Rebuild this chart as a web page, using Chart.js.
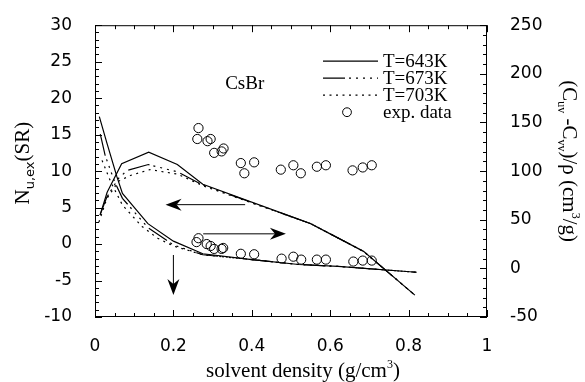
<!DOCTYPE html>
<html>
<head>
<meta charset="utf-8">
<script src="https://cdn.jsdelivr.net/npm/chart.js@4.4.0/dist/chart.umd.min.js"></script>
<style>
html,body{margin:0;padding:0;background:#fff;}
#wrap{width:585px;height:382px;}
</style>
</head>
<body>
<div id="wrap"><canvas id="myChart" width="585" height="382"></canvas></div>
<script>
// N_u,ex (left axis), three temperatures
var nuX643 = [0.013,0.031,0.068,0.137,0.21,0.275,0.55,0.685,0.816];
var nuY643 = [4.0,7.1,11.0,12.6,10.9,8.2,2.8,-1.0,-7.0];
var nuX673 = [0.013,0.03,0.06,0.082,0.136,0.21,0.275,0.55,0.685,0.816];
var nuY673 = [4.0,6.4,9.0,10.1,10.9,9.9,8.1,2.8,-1.0,-7.0];
var nuX703 = [0.01,0.03,0.06,0.09,0.14,0.21,0.275,0.55,0.685,0.816];
var nuY703 = [3.0,6.2,8.6,9.4,10.2,9.6,8.0,2.8,-1.0,-7.0];

// (C_uv - C_vv)/rho (right axis), three temperatures
var cX643 = [0.011,0.031,0.056,0.07,0.135,0.2,0.275,0.4,0.52,0.62,0.82];
var cY643 = [156,128,94,77,46,28,15,9,4,2,-4];
var cX673 = [0.0135,0.026,0.05,0.07,0.135,0.2,0.275,0.4,0.52,0.62,0.82];
var cY673 = [138,116,89,72,42,24,14,9,4,2,-4];
var cX703 = [0.018,0.04,0.07,0.12,0.16,0.2,0.275,0.4,0.52,0.62,0.82];
var cY703 = [111,89,65,43,31,23,14,9,4,2,-4];

// experimental points
var expNuX = [0.264,0.261,0.287,0.295,0.304,0.323,0.328,0.372,0.381,0.406,0.474,0.506,0.525,0.566,0.589,0.657,0.683,0.706];
var expNuY = [15.9,14.4,14.1,14.4,12.5,12.7,13.1,11.1,9.7,11.2,10.2,10.8,9.7,10.6,10.8,10.1,10.5,10.8];
var expCX = [0.264,0.259,0.285,0.295,0.304,0.323,0.327,0.372,0.406,0.476,0.506,0.526,0.566,0.589,0.659,0.683,0.706];
var expCY = [31,27,25,23,20,20,21,15,14.5,10,12,9,9,9,7,8,8];

// arrows, in left axis units
var arrowFrom = [[0.383,5.4],[0.276,1.4],[0.2,-1.5]];
var arrowTo = [[0.18,5.4],[0.487,1.4],[0.2,-7.0]];

var legendLabels = ['T=643K','T=673K','T=703K','exp. data'];
var systemLabel = 'CsBr';
var systemPos = [0.332,21.3];

var dash673 = [22,4,2,5,2,5,2,5,2,5];
var dot703 = [2,4.5];

function pts(xs,ys){
    return xs.map(function(x,i){ return {x:x,y:ys[i]}; });
}

function lineSet(label,xs,ys,axis,dash){
    return {
        label: label,
        data: pts(xs,ys),
        yAxisID: axis,
        showLine: true,
        borderColor: '#000',
        borderWidth: 1.2,
        borderDash: dash,
        pointRadius: 0,
        fill: false,
        tension: 0
    };
}

function circleSet(xs,ys,axis){
    return {
        label: 'exp. data',
        data: pts(xs,ys),
        yAxisID: axis,
        showLine: false,
        pointStyle: 'circle',
        pointRadius: 4.6,
        borderColor: '#000',
        borderWidth: 1,
        backgroundColor: 'rgba(0,0,0,0)'
    };
}

var serif = '"Liberation Serif", "DejaVu Serif", serif';
var sans = '"DejaVu Sans", sans-serif';

function drawArrow(ctx,x0,y0,x1,y1){
    var a = Math.atan2(y1-y0,x1-x0), L = 16, W = 6, N = 11;
    ctx.beginPath();
    ctx.moveTo(x0,y0);
    ctx.lineTo(x1-Math.cos(a)*N,y1-Math.sin(a)*N);
    ctx.lineWidth = 1;
    ctx.stroke();
    ctx.beginPath();
    ctx.moveTo(x1,y1);
    ctx.lineTo(x1-Math.cos(a)*L-Math.sin(a)*W,y1-Math.sin(a)*L+Math.cos(a)*W);
    ctx.lineTo(x1-Math.cos(a)*N,y1-Math.sin(a)*N);
    ctx.lineTo(x1-Math.cos(a)*L+Math.sin(a)*W,y1-Math.sin(a)*L-Math.cos(a)*W);
    ctx.closePath();
    ctx.fill();
}

// draw a run of [text, font, baseline shift] pieces
function drawRun(ctx,parts){
    var x = 0;
    parts.forEach(function(p){
        ctx.font = p[1];
        ctx.fillText(p[0],x,p[2]);
        x += ctx.measureText(p[0]).width;
    });
    return x;
}
function runWidth(ctx,parts){
    var w = 0;
    parts.forEach(function(p){ ctx.font = p[1]; w += ctx.measureText(p[0]).width; });
    return w;
}

var decorPlugin = {
    id: 'decor',
    afterDatasetsDraw: function(chart){
        var ctx = chart.ctx, ca = chart.chartArea;
        var sx = chart.scales.x, sy = chart.scales.y, sy2 = chart.scales.y2;
        ctx.save();
        ctx.strokeStyle = '#000';
        ctx.fillStyle = '#000';
        ctx.lineWidth = 1;
        ctx.setLineDash([]);
        // frame
        ctx.strokeRect(ca.left+0.5,ca.top+0.5,ca.right-ca.left-1,ca.bottom-ca.top-1);
        // inward ticks
        ctx.beginPath();
        var v, p, len;
        for (v=0; v<=20; v++){
            p = Math.round(sx.getPixelForValue(v*0.05))+0.5;
            len = (v%4===0) ? 7 : 4;
            ctx.moveTo(p,ca.bottom); ctx.lineTo(p,ca.bottom-len);
            ctx.moveTo(p,ca.top); ctx.lineTo(p,ca.top+len);
        }
        for (v=-10; v<=30; v++){
            p = Math.round(sy.getPixelForValue(v))+0.5;
            len = (v%5===0) ? 7 : 4;
            ctx.moveTo(ca.left,p); ctx.lineTo(ca.left+len,p);
        }
        for (v=-50; v<=250; v+=10){
            p = Math.round(sy2.getPixelForValue(v))+0.5;
            len = (v%50===0) ? 7 : 4;
            ctx.moveTo(ca.right,p); ctx.lineTo(ca.right-len,p);
        }
        ctx.stroke();

        // arrows
        arrowFrom.forEach(function(f,i){
            var t = arrowTo[i];
            drawArrow(ctx,sx.getPixelForValue(f[0]),sy.getPixelForValue(f[1]),
                sx.getPixelForValue(t[0]),sy.getPixelForValue(t[1]));
        });

        // system label
        ctx.font = '19px '+serif;
        ctx.textBaseline = 'alphabetic';
        ctx.fillText(systemLabel,sx.getPixelForValue(systemPos[0]),sy.getPixelForValue(systemPos[1]));

        // legend
        var lx = ca.left+228, ly = ca.top+36, rowH = 17;
        var styles = [[],dash673,dot703];
        ctx.textBaseline = 'middle';
        legendLabels.forEach(function(lab,i){
            var y = ly+i*rowH;
            if (i<3){
                ctx.setLineDash(styles[i]);
                ctx.lineWidth = 1.2;
                ctx.beginPath();
                ctx.moveTo(lx,y); ctx.lineTo(lx+55,y);
                ctx.stroke();
                ctx.setLineDash([]);
            } else {
                ctx.lineWidth = 1;
                ctx.beginPath();
                ctx.arc(lx+24,y,4.4,0,2*Math.PI);
                ctx.stroke();
            }
            ctx.font = '19px '+serif;
            ctx.fillText(lab,lx+60,y+1);
        });

        // axis titles
        ctx.textBaseline = 'alphabetic';
        var big = '21px '+serif, sub = '13px '+sans, subS = '12px '+serif;
        var leftParts = [['N',big,0],['u,ex',sub,5],['(SR)',big,0]];
        var w = runWidth(ctx,leftParts);
        ctx.save();
        ctx.translate(29,(ca.top+ca.bottom)/2-8);
        ctx.rotate(-Math.PI/2);
        ctx.translate(-w/2,0);
        drawRun(ctx,leftParts);
        ctx.restore();

        var rightParts = [['(C',big,0],['uv',subS,5],[' -C',big,0],['vv',subS,5],[')/ρ (cm',big,0],['3',subS,-9],['/g)',big,0]];
        w = runWidth(ctx,rightParts);
        ctx.save();
        ctx.translate(563,(ca.top+ca.bottom)/2-10);
        ctx.rotate(Math.PI/2);
        ctx.translate(-w/2,0);
        drawRun(ctx,rightParts);
        ctx.restore();

        // x title
        var xParts = [['solvent density (g/cm',big,0],['3',subS,-9],[')',big,0]];
        w = runWidth(ctx,xParts);
        ctx.save();
        ctx.translate((ca.left+ca.right)/2-w/2+12,377);
        drawRun(ctx,xParts);
        ctx.restore();

        ctx.restore();
    }
};

var tickFont = {family: sans, size: 17};

function fmtTick(value){
    return String(Math.round(value*10)/10);
}

window.onload = function(){
    var ctx = document.getElementById('myChart').getContext('2d');
    window.myChart = new Chart(ctx, {
        type: 'scatter',
        data: {
            datasets: [
                lineSet('T=643K',nuX643,nuY643,'y',[]),
                lineSet('T=673K',nuX673,nuY673,'y',dash673),
                lineSet('T=703K',nuX703,nuY703,'y',dot703),
                lineSet('T=643K',cX643,cY643,'y2',[]),
                lineSet('T=673K',cX673,cY673,'y2',dash673),
                lineSet('T=703K',cX703,cY703,'y2',dot703),
                circleSet(expNuX,expNuY,'y'),
                circleSet(expCX,expCY,'y2')
            ]
        },
        options: {
            responsive: false,
            animation: false,
            devicePixelRatio: 1,
            layout: {padding: {top: 24, left: 0, right: 0, bottom: 0}},
            plugins: {legend: {display: false}, tooltip: {enabled: false}},
            scales: {
                x: {
                    type: 'linear', position: 'bottom', min: 0, max: 1,
                    grid: {display: false}, border: {display: false},
                    ticks: {stepSize: 0.2, font: tickFont, color: '#000', padding: 11, maxRotation: 0, callback: fmtTick},
                    afterFit: function(s){ s.height = 65; }
                },
                y: {
                    type: 'linear', position: 'left', min: -10, max: 30,
                    grid: {display: false}, border: {display: false},
                    ticks: {stepSize: 5, font: tickFont, color: '#000', padding: 15},
                    afterFit: function(s){ s.width = 95; }
                },
                y2: {
                    type: 'linear', position: 'right', min: -50, max: 250,
                    grid: {display: false}, border: {display: false},
                    ticks: {stepSize: 50, font: tickFont, color: '#000', padding: 15},
                    afterFit: function(s){ s.width = 98; }
                }
            }
        },
        plugins: [decorPlugin]
    });
};
</script>
</body>
</html>
